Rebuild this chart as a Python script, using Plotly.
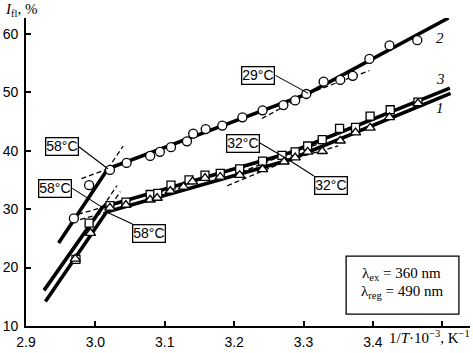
import plotly.graph_objects as go

# ---------------- data ----------------
# curve 2 (circles)
c2_x = [2.969, 2.991, 3.021, 3.045, 3.079, 3.093, 3.109, 3.132, 3.141, 3.159, 3.183,
        3.212, 3.241, 3.271, 3.288, 3.304, 3.329, 3.353, 3.371, 3.395, 3.424, 3.464]
c2_y = [28.4, 34.1, 36.7, 37.9, 39.1, 39.8, 40.6, 41.6, 42.9, 43.7, 44.3,
        45.7, 46.9, 47.8, 48.6, 49.7, 51.8, 52.1, 52.8, 55.7, 58.0, 58.9]
# curve 3 (squares)
c3_x = [2.972, 2.991, 3.021, 3.044, 3.079, 3.090, 3.109, 3.135, 3.158, 3.180, 3.208,
        3.241, 3.269, 3.288, 3.306, 3.327, 3.352, 3.375, 3.396, 3.425, 3.465]
c3_y = [21.4, 27.6, 30.6, 31.2, 32.5, 32.7, 34.1, 35.0, 35.8, 36.1, 36.9,
        38.2, 39.2, 39.8, 40.8, 41.9, 43.8, 44.0, 45.9, 47.0, 48.3]
# curve 1 (triangles)
c1_x = [2.971, 2.993, 3.021, 3.044, 3.079, 3.089, 3.108, 3.127, 3.140, 3.158, 3.180,
        3.208, 3.241, 3.272, 3.288, 3.306, 3.327, 3.353, 3.375, 3.396, 3.424, 3.465]
c1_y = [21.5, 25.9, 30.2, 30.7, 31.6, 31.9, 33.1, 33.8, 34.7, 35.3, 35.5,
        35.8, 36.8, 38.1, 38.8, 39.8, 39.9, 41.7, 43.1, 43.9, 45.7, 48.1]

# fitted broken lines (start, break 58°C, break 29/32°C, end)
fit2_x = [2.947, 3.018, 3.307, 3.509]
fit2_y = [24.2, 36.9, 49.8, 62.7]
fit3_x = [2.926, 3.010, 3.279, 3.511]
fit3_y = [16.1, 30.3, 39.6, 50.7]
fit1_x = [2.928, 3.016, 3.279, 3.512]
fit1_y = [14.2, 29.5, 38.4, 49.8]

# dashed extrapolations: [x0, x1], [y0, y1]
dash2 = [([2.980, 3.018], [35.2, 36.9]), ([3.018, 3.040], [36.9, 40.8]),
         ([3.240, 3.307], [45.5, 49.8]), ([3.307, 3.395], [49.8, 53.7])]
dash3 = [([2.975, 3.010], [29.1, 30.3]), ([3.010, 3.031], [30.3, 34.0]),
         ([3.210, 3.279], [36.3, 39.6]), ([3.279, 3.330], [39.6, 41.4])]
dash1 = [([2.978, 3.016], [28.2, 29.5]), ([3.016, 3.036], [29.5, 33.0]),
         ([3.190, 3.279], [34.0, 38.4]), ([3.279, 3.350], [38.4, 40.8])]

x_ticks = [2.9, 3.0, 3.1, 3.2, 3.3, 3.4, 3.5]
x_ticklabels = ["2.9", "3.0", "3.1", "3.2", "3.3", "3.4", ""]
y_ticks = [10, 20, 30, 40, 50, 60]

# ---------------- figure ----------------
fig = go.Figure()

for segs in (dash2, dash3, dash1):
    for sx, sy in segs:
        fig.add_trace(go.Scatter(x=sx, y=sy, mode="lines",
                                 line=dict(color="black", width=1.3, dash="5px,3px"),
                                 showlegend=False, hoverinfo="skip"))

for fx, fy in ((fit2_x, fit2_y), (fit3_x, fit3_y), (fit1_x, fit1_y)):
    fig.add_trace(go.Scatter(x=fx, y=fy, mode="lines",
                             line=dict(color="black", width=3.6),
                             showlegend=False, hoverinfo="skip"))

mk = dict(color="white", line=dict(color="black", width=1.3))
fig.add_trace(go.Scatter(x=c2_x, y=c2_y, mode="markers",
                         marker=dict(symbol="circle", size=9, **mk), showlegend=False))
fig.add_trace(go.Scatter(x=c3_x, y=c3_y, mode="markers",
                         marker=dict(symbol="square", size=8, **mk), showlegend=False))
fig.add_trace(go.Scatter(x=c1_x, y=c1_y, mode="markers",
                         marker=dict(symbol="triangle-up", size=9, **mk), showlegend=False))

sans = dict(family="Liberation Sans, Arial", size=14, color="black")
serif = dict(family="Liberation Serif, Times New Roman", size=15, color="black")

def label(text, x, y, ax, ay, xanchor, yanchor):
    fig.add_annotation(x=x, y=y, xref="x", yref="y", text=text, showarrow=True,
                       arrowhead=0, arrowwidth=1.1, arrowcolor="black",
                       ax=ax, ay=ay, axref="pixel", ayref="pixel",
                       xanchor=xanchor, yanchor=yanchor, font=sans,
                       bgcolor="white", bordercolor="black", borderwidth=1.3, borderpad=0)

label("58°C", fit2_x[1], fit2_y[1], -29, -22, "right", "middle")
label("58°C", fit3_x[1], fit3_y[1], -30, -19, "right", "middle")
label("58°C", fit1_x[1], fit1_y[1], 26, 12, "left", "top")
label("29°C", fit2_x[2], fit2_y[2], -33, -18, "right", "middle")
label("32°C", fit1_x[2], fit1_y[2], -29, -17, "right", "middle")
label("32°C", fit1_x[2], fit1_y[2], 25, 16, "left", "top")

# curve numbers
for t, yy in (("2", 59.2), ("3", 52.2), ("1", 47.3)):
    fig.add_annotation(x=3.497, y=yy, text="<i>%s</i>" % t, showarrow=False,
                       font=serif, xanchor="center", yanchor="middle")

# info box
fig.add_shape(type="rect", xref="paper", yref="paper", x0=0.721, x1=0.975,
              y0=0.0386, y1=0.227, line=dict(color="black", width=1.3),
              fillcolor="white")
fig.add_annotation(xref="paper", yref="paper", x=0.8465, y=0.168,
                   text="λ<sub>ex</sub> = 360 nm", showarrow=False, font=serif,
                   xanchor="center", yanchor="middle")
fig.add_annotation(xref="paper", yref="paper", x=0.8465, y=0.109,
                   text="λ<sub>reg</sub> = 490 nm", showarrow=False, font=serif,
                   xanchor="center", yanchor="middle")

# axis titles
fig.add_annotation(xref="paper", yref="paper", x=-0.052, y=1.027,
                   text="<i>I</i><sub>fl</sub>, %", showarrow=False, font=serif,
                   xanchor="left", yanchor="middle")
fig.add_annotation(xref="paper", yref="paper", x=1.005, y=-0.036,
                   text="1/<i>T</i>·10<sup>−3</sup>, K<sup>−1</sup>", showarrow=False,
                   font=serif, xanchor="right", yanchor="middle")

fig.update_layout(
    width=473, height=353,
    margin=dict(l=25, r=3, t=18, b=24),
    plot_bgcolor="white", paper_bgcolor="white",
    xaxis=dict(range=[2.9, 3.54], tickvals=x_ticks, ticktext=x_ticklabels,
               showgrid=False, zeroline=False, showline=True, linecolor="black",
               linewidth=1.8, ticks="inside", ticklen=5, tickwidth=1.5,
               tickcolor="black", tickfont=sans, ticklabelstandoff=2),
    yaxis=dict(range=[10, 62.7], tickvals=y_ticks, showgrid=False, zeroline=False,
               showline=True, linecolor="black", linewidth=1.8, ticks="inside",
               ticklen=5, tickwidth=1.5, tickcolor="black", tickfont=sans,
               ticklabelstandoff=3),
)

fig.write_html("out.html")
